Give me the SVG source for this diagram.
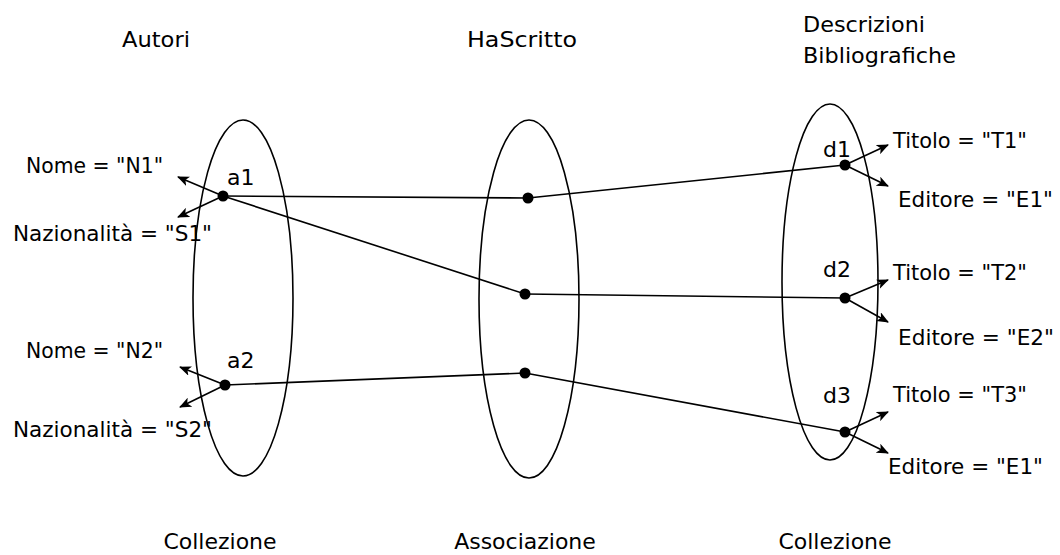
<svg xmlns="http://www.w3.org/2000/svg" width="1060" height="555" viewBox="0 0 1060 555">
<style>
text{font-family:"DejaVu Sans","Liberation Sans",sans-serif;font-size:22px;fill:#000}
.mid{text-anchor:middle}
.ell{fill:none;stroke:#000;stroke-width:1.6}
.ln{stroke:#000;stroke-width:1.6;fill:none}
.ar{stroke:#000;stroke-width:1.6;fill:none;marker-end:url(#ah)}
.dot{fill:#000}
</style>
<defs>
<marker id="ah" viewBox="0 0 12 10" refX="11" refY="5" markerWidth="12" markerHeight="10" markerUnits="userSpaceOnUse" orient="auto">
<path d="M0,0 L12,5 L0,10 L3,5 z" fill="#000"/>
</marker>
</defs>
<rect width="1060" height="555" fill="#fff"/>
<g id="autori">
<text x="122" y="47" textLength="68" lengthAdjust="spacingAndGlyphs">Autori</text>
<ellipse class="ell" cx="243" cy="298" rx="50" ry="178"/>
<text class="mid" x="220" y="549">Collezione</text>
</g>
<g id="hascritto">
<text x="467" y="47" textLength="110" lengthAdjust="spacingAndGlyphs">HaScritto</text>
<ellipse class="ell" cx="529" cy="299" rx="50" ry="179"/>
<text class="mid" x="525" y="549">Associazione</text>
</g>
<g id="descrizioni">
<text x="803" y="32" textLength="122" lengthAdjust="spacingAndGlyphs">Descrizioni</text>
<text x="803" y="63" textLength="153" lengthAdjust="spacingAndGlyphs">Bibliografiche</text>
<ellipse class="ell" cx="830" cy="282" rx="48" ry="178"/>
<text class="mid" x="835" y="549">Collezione</text>
</g>
<g id="a1">
<circle class="dot" cx="223" cy="196" r="5.5"/>
<text x="227" y="185">a1</text>
<text x="26" y="173" textLength="137" lengthAdjust="spacingAndGlyphs">Nome = "N1"</text>
<text x="13" y="241" textLength="199" lengthAdjust="spacingAndGlyphs">Nazionalità = "S1"</text>
</g>
<g id="a2">
<circle class="dot" cx="225" cy="385" r="5.5"/>
<text x="227" y="368">a2</text>
<text x="26" y="358" textLength="137" lengthAdjust="spacingAndGlyphs">Nome = "N2"</text>
<text x="13" y="437" textLength="199" lengthAdjust="spacingAndGlyphs">Nazionalità = "S2"</text>
</g>
<g id="m1"><circle class="dot" cx="528" cy="198" r="5.5"/></g>
<g id="m2"><circle class="dot" cx="525" cy="294" r="5.5"/></g>
<g id="m3"><circle class="dot" cx="525" cy="373" r="5.5"/></g>
<g id="d1">
<circle class="dot" cx="845" cy="165" r="5.5"/>
<text x="823" y="157">d1</text>
<text x="893" y="148" textLength="134" lengthAdjust="spacingAndGlyphs">Titolo = "T1"</text>
<text x="898" y="207" textLength="155" lengthAdjust="spacingAndGlyphs">Editore = "E1"</text>
</g>
<g id="d2">
<circle class="dot" cx="845" cy="298" r="5.5"/>
<text x="823" y="277">d2</text>
<text x="893" y="280" textLength="134" lengthAdjust="spacingAndGlyphs">Titolo = "T2"</text>
<text x="898" y="345" textLength="156" lengthAdjust="spacingAndGlyphs">Editore = "E2"</text>
</g>
<g id="d3">
<circle class="dot" cx="845" cy="432" r="5.5"/>
<text x="823" y="403">d3</text>
<text x="893" y="402" textLength="134" lengthAdjust="spacingAndGlyphs">Titolo = "T3"</text>
<text x="888" y="474" textLength="155" lengthAdjust="spacingAndGlyphs">Editore = "E1"</text>
</g>
<g id="connectors">
<line class="ln" x1="223" y1="196" x2="528" y2="198"/>
<line class="ln" x1="223" y1="196" x2="525" y2="294"/>
<line class="ln" x1="528" y1="198" x2="845" y2="165"/>
<line class="ln" x1="525" y1="294" x2="845" y2="298"/>
<line class="ln" x1="225" y1="385" x2="525" y2="373"/>
<line class="ln" x1="525" y1="373" x2="845" y2="432"/>
<line class="ar" x1="223" y1="196" x2="178" y2="177"/>
<line class="ar" x1="223" y1="196" x2="178" y2="217"/>
<line class="ar" x1="225" y1="385" x2="180" y2="367"/>
<line class="ar" x1="225" y1="385" x2="180" y2="407"/>
<line class="ar" x1="845" y1="165" x2="888" y2="145"/>
<line class="ar" x1="845" y1="165" x2="888" y2="186"/>
<line class="ar" x1="845" y1="298" x2="888" y2="280"/>
<line class="ar" x1="845" y1="298" x2="888" y2="322"/>
<line class="ar" x1="845" y1="432" x2="888" y2="412"/>
<line class="ar" x1="845" y1="432" x2="888" y2="453"/>
</g>
</svg>
